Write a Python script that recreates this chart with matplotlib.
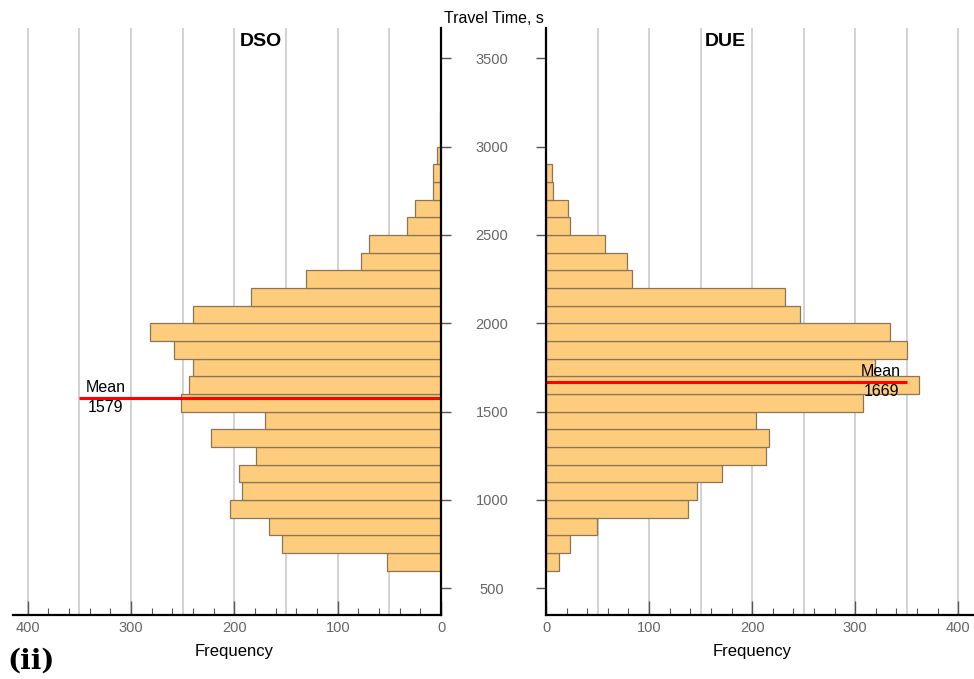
import numpy as np
import matplotlib
matplotlib.use("Agg")
import matplotlib.pyplot as plt
from matplotlib.ticker import MultipleLocator
from matplotlib.transforms import blended_transform_factory


# ==========================
# Data
# ==========================

# lower bin edges of travel time (s), bins are 100 s wide
dso_bins = [600, 700, 800, 900, 1000, 1100, 1200, 1300, 1400, 1500, 1600, 1700,
            1800, 1900, 2000, 2100, 2200, 2300, 2400, 2500, 2600, 2700, 2800,
            2900, 3000, 3100]
dso_freq = [52, 154, 167, 204, 193, 196, 179, 223, 170, 252, 244, 240,
            258, 282, 240, 184, 131, 77, 70, 33, 25, 8, 8, 4, 1, 1]

due_bins = [600, 700, 800, 900, 1000, 1100, 1200, 1300, 1400, 1500, 1600, 1700,
            1800, 1900, 2000, 2100, 2200, 2300, 2400, 2500, 2600, 2700, 2800]
due_freq = [13, 23, 49, 138, 146, 171, 213, 216, 204, 308, 362, 319,
            350, 334, 246, 232, 83, 79, 57, 23, 21, 7, 6]

dso_mean = 1579
due_mean = 1669

bin_width = 100
mean_line_len = 350

y_ticks = [500, 1000, 1500, 2000, 2500, 3000, 3500]
x_ticks = [0, 100, 200, 300, 400]


# ==========================
# Figure
# ==========================

plt.rcParams["font.family"] = ["Liberation Sans", "DejaVu Sans"]

bar_color = "#fdcc7c"
edge_color = "#8a7558"
grid_color = "#cfcfcf"
tick_color = "#666666"

fig = plt.figure(figsize=(9.74, 6.79), dpi=100)

ax1 = fig.add_axes([0.0137, 0.0943, 0.4391, 0.8645])
ax2 = fig.add_axes([0.5606, 0.0943, 0.4381, 0.8645])

ylim = (349, 3671)


def style_axis(ax, bins, freq, mean, name):
    ax.barh(
        bins,
        freq,
        height=bin_width,
        align="edge",
        color=bar_color,
        edgecolor=edge_color,
        linewidth=0.9,
        zorder=3
    )

    ax.set_ylim(*ylim)
    ax.set_xlim(0, 414)

    # vertical grid every 50
    for g in np.arange(50, 401, 50):
        ax.axvline(g, color=grid_color, linewidth=1.3, zorder=1)

    # mean line and label
    ax.plot([0, mean_line_len], [mean, mean], color="#ff0000",
            linewidth=2.2, zorder=4, solid_capstyle="butt")
    ax.text(325, mean + 15, "Mean", ha="center", va="bottom",
            fontsize=11.5, zorder=5)
    ax.text(325, mean - 15, str(mean), ha="center", va="top",
            fontsize=11.5, zorder=5)

    ax.text(174, 3595, name, ha="center", va="center",
            fontsize=14, fontweight="bold")

    trans = blended_transform_factory(ax.transData, ax.transAxes)
    ax.text(200, -0.062, "Frequency", transform=trans,
            ha="center", va="center", fontsize=12)

    ax.set_xticks(x_ticks)
    ax.xaxis.set_minor_locator(MultipleLocator(20))
    ax.tick_params(axis="x", which="major", direction="in", length=10,
                   width=1, color="#555555", labelcolor=tick_color,
                   labelsize=10.5, pad=4)
    ax.tick_params(axis="x", which="minor", direction="in", length=5,
                   width=0.8, color="#555555")

    ax.spines["top"].set_visible(False)
    ax.spines["bottom"].set_linewidth(1.6)
    ax.spines["bottom"].set_zorder(6)
    ax.set_facecolor("none")


style_axis(ax1, dso_bins, dso_freq, dso_mean, "DSO")
style_axis(ax2, due_bins, due_freq, due_mean, "DUE")

# left panel mirrored, axis on its right
ax1.invert_xaxis()
ax1.spines["left"].set_visible(False)
ax1.spines["right"].set_linewidth(1.6)
ax1.spines["right"].set_zorder(6)
ax1.yaxis.tick_right()
ax1.set_yticks(y_ticks)
ax1.tick_params(axis="y", direction="out", length=7, width=1,
                color="#555555", labelright=False)

# right panel carries the time labels
ax2.spines["right"].set_visible(False)
ax2.spines["left"].set_linewidth(1.6)
ax2.spines["left"].set_zorder(6)
ax2.set_yticks(y_ticks)
ax2.tick_params(axis="y", direction="out", length=7, width=1,
                color="#555555", labelcolor=tick_color, labelsize=10.5,
                pad=32)
for lab in ax2.get_yticklabels():
    lab.set_horizontalalignment("center")

fig.text(0.5067, 0.973, "Travel Time, s", ha="center", va="center",
         fontsize=11.5)

fig.text(0.008, 0.026, "(ii)", ha="left", va="center",
         fontsize=20, fontweight="bold", family="DejaVu Serif")

fig.savefig("out.png", dpi=100)
